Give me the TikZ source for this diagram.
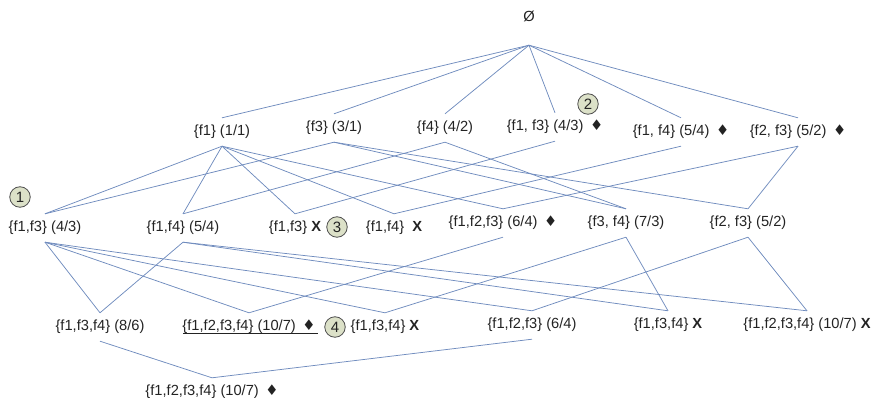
\documentclass[tikz,border=0pt]{standalone}
\usepackage{fontspec}
\setmainfont{Liberation Sans}
\newfontfamily\symfont{DejaVu Sans}
\newcommand{\dmd}{\,{\symfont ♦}}
\definecolor{edge}{RGB}{112,140,190}
\definecolor{txt}{RGB}{35,35,35}
\definecolor{circfill}{RGB}{220,225,200}
\begin{document}
\begin{tikzpicture}[x=1pt,y=-1pt,
  lbl/.style={font=\fontsize{14.67pt}{17pt}\selectfont, text=txt, inner sep=0pt,
    minimum height=28pt, text height=10.5pt, text depth=3pt},
  conn/.style={draw=edge, line width=0.75pt},
  num/.style={circle, draw=black!70, fill=circfill, line width=0.8pt,
    minimum size=20.5pt, inner sep=0pt, text=txt, font=\fontsize{15pt}{17pt}\selectfont}]
\useasboundingbox (0,0) rectangle (872,398);

% root
\node[lbl, minimum height=54pt] (root) at (529,18) {Ø};

% level 1
\node[lbl] (a1)  at (222,132) {\{f1\} (1/1)};
\node[lbl] (a3)  at (334,128) {\{f3\} (3/1)};
\node[lbl] (a4)  at (445,128) {\{f4\} (4/2)};
\node[lbl] (a13) at (555,127) {\{f1, f3\} (4/3) \dmd};
\node[lbl] (a14) at (681,132) {\{f1, f4\} (5/4) \dmd};
\node[lbl] (a23) at (798,132) {\{f2, f3\} (5/2) \dmd};

% level 2
\node[lbl] (b13)  at (45,228)  {\{f1,f3\} (4/3)};
\node[lbl] (b14)  at (183,228) {\{f1,f4\} (5/4)};
\node[lbl] (bx13) at (295,228) {\{f1,f3\} \textbf{X}};
\node[lbl] (bx14) at (394,228) {\{f1,f4\}\ \ \textbf{X}};
\node[lbl] (b123) at (503,223) {\{f1,f2,f3\} (6/4) \dmd};
\node[lbl] (b34)  at (626,223) {\{f3, f4\} (7/3)};
\node[lbl] (b23)  at (748,223) {\{f2, f3\} (5/2)};

% level 3
\node[lbl] (d134)   at (100,327) {\{f1,f3,f4\} (8/6)};
\node[lbl] (d1234)  at (249,327) {\{f1,f2,f3,f4\} (10/7) \dmd};
\node[lbl] (dx134)  at (385,327) {\{f1,f3,f4\} \textbf{X}};
\node[lbl] (d123)   at (532,325) {\{f1,f2,f3\} (6/4)};
\node[lbl] (dx134b) at (668,325) {\{f1,f3,f4\} \textbf{X}};
\node[lbl] (dx1234) at (807,325) {\{f1,f2,f3,f4\} (10/7) \textbf{X}};

% level 4
\node[lbl] (e) at (212,392) {\{f1,f2,f3,f4\} (10/7) \dmd};

% underline
\draw[txt, line width=0.8pt] (183,333) -- (318,333);

% circled numbers
\node[num] (n1) at (20,197)  {1};
\node[num] (n2) at (588,104) {2};
\node[num] (n3) at (337,227) {3};
\node[num] (n4) at (335,327) {4};

% connectors
\foreach \t in {a1,a3,a4,a13,a14,a23} \draw[conn] (root.south) -- (\t.north);
\foreach \t in {b13,b14,bx13,bx14,b123} \draw[conn] (a1.south) -- (\t.north);
\foreach \t in {b13,b34,b23} \draw[conn] (a3.south) -- (\t.north);
\foreach \t in {b14,b34} \draw[conn] (a4.south) -- (\t.north);
\draw[conn] (a13.south) -- (bx13.north);
\draw[conn] (a14.south) -- (bx14.north);
\foreach \t in {b123,b23} \draw[conn] (a23.south) -- (\t.north);
\foreach \t in {d134,d1234,dx134,d123} \draw[conn] (b13.south) -- (\t.north);
\foreach \t in {d134,dx134b,dx1234} \draw[conn] (b14.south) -- (\t.north);
\draw[conn] (b123.south) -- (d1234.north);
\foreach \t in {dx134,dx134b} \draw[conn] (b34.south) -- (\t.north);
\foreach \t in {d123,dx1234} \draw[conn] (b23.south) -- (\t.north);
\draw[conn] (d134.south) -- (e.north);
\draw[conn] (d123.south) -- (e.north);
\end{tikzpicture}
\end{document}
